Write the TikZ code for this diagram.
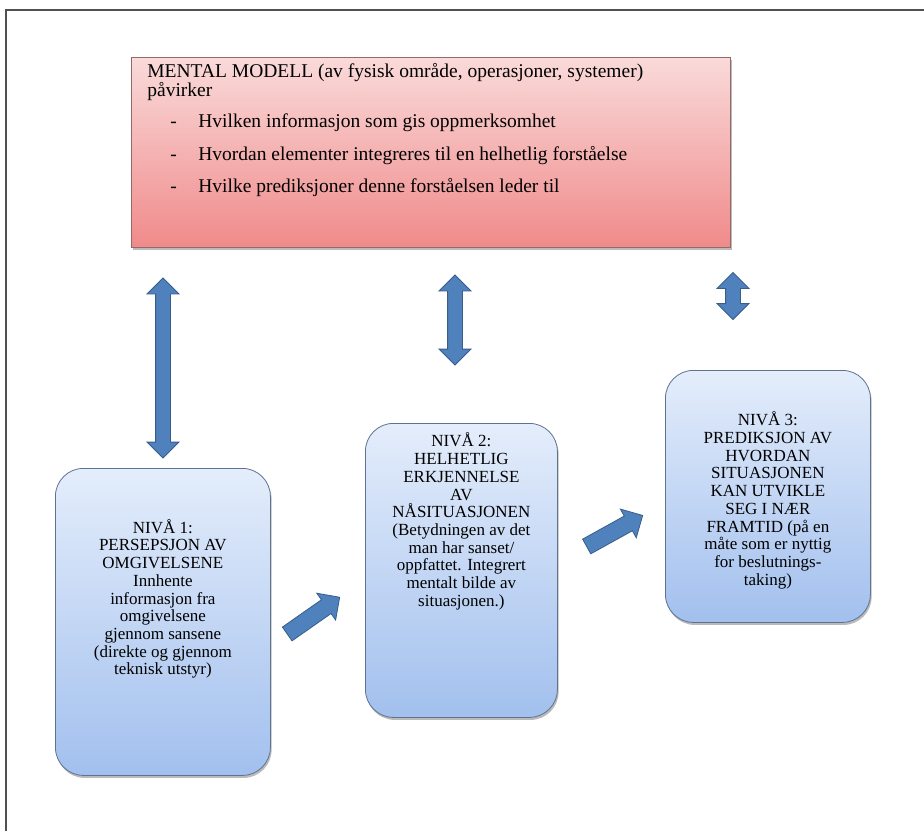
\documentclass[tikz,border=0pt]{standalone}
\usepackage{fontspec}
\setmainfont{Liberation Serif}
\usetikzlibrary{shapes.arrows,shadows}
\definecolor{arrowfill}{RGB}{79,129,189}
\definecolor{arrowdraw}{RGB}{56,93,138}
\definecolor{redtop}{RGB}{250,218,218}
\definecolor{redbot}{RGB}{240,138,138}
\definecolor{redline}{RGB}{150,105,105}
\definecolor{bluetop}{RGB}{228,237,251}
\definecolor{bluebot}{RGB}{162,192,238}
\definecolor{blueline}{RGB}{95,115,145}
\definecolor{framec}{RGB}{80,80,80}
\begin{document}
\begin{tikzpicture}[x=1pt,y=-1pt,
  boxshadow/.style={drop shadow={shadow xshift=1.2pt,shadow yshift=-2.5pt,fill=black!60,opacity=0.45}},
  redbox/.style={rectangle,draw=redline,line width=0.8pt,top color=redtop,bottom color=redbot,
    boxshadow,inner xsep=16pt,inner ysep=6pt,anchor=north west},
  bluebox/.style={rectangle,rounded corners=28pt,draw=blueline,line width=0.8pt,
    top color=bluetop,bottom color=bluebot,boxshadow,inner sep=0pt,anchor=north west},
  vdarrow/.style={double arrow,rotate=90,fill=arrowfill,draw=arrowdraw,line width=0.8pt,
    inner xsep=0pt,inner ysep=7pt,text height=0pt,text depth=0pt,
    double arrow head extend=8.5pt,double arrow head indent=0pt},
  sgarrow/.style={single arrow,fill=arrowfill,draw=arrowdraw,line width=0.8pt,
    inner xsep=0pt,inner ysep=8pt,text height=0pt,text depth=0pt,
    single arrow head extend=8pt,single arrow head indent=0pt},
  boxtext/.style={font=\fontsize{17}{17.7}\selectfont}
]
\useasboundingbox (0,0) rectangle (924,831);
\fill[white] (0,0) rectangle (924,831);
\draw[framec,line width=1.5pt] (6,831) -- (6,10) -- (924,10);

% mental model box
\node[redbox] (mm) at (131,57) {\parbox[t][178pt][t]{567pt}{\fontsize{19.5}{18}\selectfont
MENTAL MODELL (av fysisk område, operasjoner, systemer)\\
påvirker\\[13pt]
\hspace*{23pt}\makebox[28pt][l]{-}Hvilken informasjon som gis oppmerksomhet\\[13pt]
\hspace*{23pt}\makebox[28pt][l]{-}Hvordan elementer integreres til en helhetlig forståelse\\[13pt]
\hspace*{23pt}\makebox[28pt][l]{-}Hvilke prediksjoner denne forståelsen leder til}};

% level boxes
\node[bluebox,boxtext] (n1) at (55,468) {\parbox[c][307pt][c]{215pt}{\centering
NIVÅ 1:\\ PERSEPSJON AV\\ OMGIVELSENE\\ Innhente\\ informasjon fra\\ omgivelsene\\ gjennom sansene\\ (direkte og gjennom\\ teknisk utstyr)\par\vspace*{46pt}}};

\node[bluebox,boxtext] (n2) at (365,423) {\parbox[c][294pt][c]{192pt}{\centering
NIVÅ 2:\\ HELHETLIG\\ ERKJENNELSE\\ AV\\ NÅSITUASJONEN\\ (Betydningen av det\\ man har sanset/\\ oppfattet. Integrert\\ mentalt bilde av\\ situasjonen.)\par\vspace*{98pt}}};

\node[bluebox,boxtext] (n3) at (665,370) {\parbox[c][252pt][c]{205pt}{\centering
NIVÅ 3:\\ PREDIKSJON AV\\ HVORDAN\\ SITUASJONEN\\ KAN UTVIKLE\\ SEG I NÆR\\ FRAMTID (på en\\ måte som er nyttig\\ for beslutnings-\\ taking)\par\vspace*{-8pt}}};

% vertical double arrows (mental model <-> levels)
\node[vdarrow,minimum height=180pt] (u1) at (163,368) {};
\node[vdarrow,minimum height=90pt] (u2) at (455,320) {};
\node[vdarrow,minimum height=47pt] (u3) at (733,296) {};

% diagonal arrows (level -> next level)
\node[sgarrow,rotate=35,minimum height=64pt] (d1) at (310,618) {};
\node[sgarrow,rotate=29,minimum height=64pt] (d2) at (611,533) {};
\end{tikzpicture}
\end{document}
